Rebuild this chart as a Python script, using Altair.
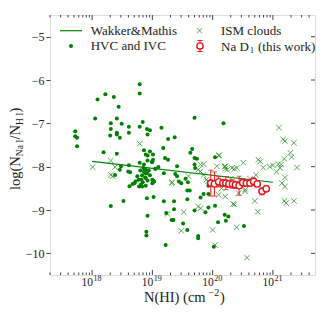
import altair as alt
import pandas as pd

# ---------------- data ----------------
hvc_logN = [17.72, 17.72, 17.75, 17.75,
            18.05, 18.09, 18.22, 18.36, 18.44, 18.41, 18.31, 18.49, 18.61, 18.79, 18.84,
            18.31, 18.41, 18.41, 18.46, 18.30, 18.61, 18.79, 18.79, 18.19, 18.41, 18.86,
            18.96, 18.89, 18.92, 18.91, 18.96, 18.92,
            18.48, 18.46, 18.38, 18.61, 18.60, 18.63, 18.31, 18.52,
            18.79, 18.86, 18.85, 18.89, 18.86, 18.91, 18.80, 18.83, 18.88, 18.82, 18.77,
            18.72, 18.70, 18.81, 18.83, 18.78, 18.92, 19.00, 19.03, 18.99, 19.05, 18.92,
            19.01, 18.94, 18.67, 18.75, 18.84, 18.89, 18.96, 18.62,
            18.91, 19.02, 18.92, 18.90, 18.90, 19.22,
            19.19, 19.36, 19.36, 19.23, 19.32, 19.35, 19.51, 19.58, 19.58, 19.76, 19.76,
            19.70, 19.80, 19.88, 19.93, 20.04, 20.20, 20.26, 20.22, 20.09, 19.85, 19.93,
            19.58, 19.62, 20.02, 20.52,
            19.70, 20.18, 19.15, 19.26, 19.37, 19.18, 19.66, 19.63, 19.21, 19.26, 19.70,
            19.74, 20.04, 19.01, 19.00, 19.41, 19.10, 19.05, 19.70, 19.71, 19.19, 19.38,
            19.41, 19.55, 19.59, 19.44, 19.48, 19.01, 19.00, 18.89, 18.89, 19.93]
hvc_ratio = [-7.18, -7.30, -7.33, -7.53,
             -6.89, -6.45, -6.33, -6.39, -6.62, -6.89, -7.00, -7.01, -7.08, -7.08, -6.97,
             -7.13, -7.22, -7.26, -7.33, -7.28, -7.22, -6.10, -6.31, -7.67, -7.70, -7.62,
             -7.65, -7.72, -7.74, -7.13, -7.16, -7.26,
             -7.99, -8.07, -8.19, -7.97, -8.11, -8.13, -8.91, -8.79,
             -7.91, -7.95, -8.03, -8.07, -8.12, -8.15, -8.09, -8.20, -8.25, -8.30, -8.30,
             -8.34, -8.38, -8.42, -8.46, -8.46, -8.32, -8.30, -8.34, -7.89, -8.05, -7.86,
             -7.72, -8.09, -8.40, -8.22, -8.36, -8.44, -8.20, -8.45,
             -8.73, -8.70, -9.13, -9.50, -9.59, -9.81,
             -8.80, -8.80, -8.98, -9.07, -9.23, -9.23, -9.31, -9.46, -8.75, -9.60, -9.65,
             -9.01, -8.71, -9.05, -8.94, -8.90, -9.11, -9.15, -9.25, -9.28, -8.63, -8.63,
             -8.55, -8.55, -9.85, -9.37,
             -6.87, -7.00, -7.10, -7.36, -7.32, -7.57, -7.59, -7.68, -7.80, -7.84, -7.80,
             -7.82, -7.78, -7.84, -7.89, -7.99, -8.01, -8.05, -7.95, -8.03, -8.15, -8.17,
             -8.22, -8.28, -8.36, -8.34, -8.38, -8.32, -8.38, -8.15, -8.26, -8.44]

ism_logN = [18.01, 18.31, 18.38, 18.31, 18.34, 18.79,
            19.32, 19.25, 19.52, 19.76, 19.80, 19.48, 20.00, 20.04, 20.34, 19.92,
            20.11, 19.85, 19.80, 19.76, 19.80, 19.85, 19.60, 20.21, 20.24, 20.32, 19.33, 19.90,
            21.10, 21.17, 21.20, 21.35, 21.29, 21.31, 21.19, 21.40, 21.09, 21.14, 21.12,
            21.06, 20.95, 21.00, 21.20, 21.15, 21.20, 20.84, 20.76, 20.79, 20.72, 20.51,
            20.36, 20.40, 20.20, 20.21, 20.10,
            20.54, 20.70, 21.19, 21.22, 21.35, 20.36, 20.75, 20.40, 20.57,
            20.07, 20.10, 20.21, 20.43, 20.30, 20.62, 20.15, 20.54]
ism_ratio = [-8.01, -7.86, -8.01, -8.19, -8.22, -7.47,
             -8.38, -9.09, -9.05, -8.92, -8.96, -9.48, -9.46, -9.81, -8.86, -8.34,
             -7.74, -7.94, -7.95, -8.07, -8.11, -8.19, -8.22, -7.99, -8.07, -8.03, -8.36, -8.30,
             -7.10, -7.37, -7.41, -7.45, -7.68, -7.78, -7.82, -8.02, -7.94, -7.95, -8.03,
             -8.12, -8.00, -7.97, -8.25, -8.38, -8.46, -8.02, -7.84, -7.88, -8.19, -7.91,
             -8.05, -8.03, -8.00, -8.05, -7.74,
             -8.57, -8.79, -8.79, -8.84, -8.79, -8.87, -9.04, -9.40, -10.10,
             -7.99, -8.65, -8.69, -8.61, -8.28, -8.28, -8.50, -8.53]

nad_logN = [19.97, 20.03, 20.10, 20.17, 20.22, 20.27, 20.33, 20.38,
            20.44, 20.50, 20.56, 20.62, 20.68, 20.74, 20.82, 20.89]
nad_ratio = [-8.38, -8.40, -8.35, -8.38, -8.38, -8.40, -8.40, -8.42,
             -8.44, -8.37, -8.38, -8.38, -8.34, -8.40, -8.57, -8.51]
nad_err = [0.30, 0.28, 0.12, 0.08, 0.15, 0.08, 0.10, 0.08,
           0.22, 0.08, 0.06, 0.06, 0.08, 0.06, 0.08, 0.07]

wm_logN = [18.0, 21.0]
wm_ratio = [-7.88, -8.36]

x_major = [1e18, 1e19, 1e20, 1e21]
x_exp = ["18", "19", "20", "21"]
x_minor = [m * 10.0 ** e for e in range(17, 22) for m in range(2, 10) if m * 10.0 ** e < 5e21]
y_major = [-10, -9, -8, -7, -6, -5]

# ---------------- frames ----------------
hvc = pd.DataFrame({"N": [10 ** v for v in hvc_logN], "r": hvc_ratio})
ism = pd.DataFrame({"N": [10 ** v for v in ism_logN], "r": ism_ratio})
nad = pd.DataFrame({"N": [10 ** v for v in nad_logN], "r": nad_ratio,
                    "lo": [r - e for r, e in zip(nad_ratio, nad_err)],
                    "hi": [r + e for r, e in zip(nad_ratio, nad_err)]})
wm = pd.DataFrame({"N": [10 ** v for v in wm_logN], "r": wm_ratio})
xmaj = pd.DataFrame({"v": x_major, "e": x_exp})
xmin = pd.DataFrame({"v": x_minor})
ymaj = pd.DataFrame({"v": y_major})
one = pd.DataFrame({"a": [0]})

W, H = 265, 260
FONT = "Liberation Serif"
GREEN = "#008000"
RED = "#e8141c"
TXT = "#222222"

xscale = alt.Scale(type="log", domain=[2e17, 5e21])
yscale = alt.Scale(domain=[-10.5, -4.5])
yaxis = alt.Axis(values=y_major, tickSize=4, labelPadding=2, domain=False, grid=False,
                 title=None, labelFont=FONT, labelFontSize=12, labelColor=TXT,
                 tickColor="#444")


def X(f="N"):
    return alt.X(f"{f}:Q", scale=xscale, axis=None)


def Y(f="r"):
    return alt.Y(f"{f}:Q", scale=yscale, axis=yaxis)


layers = []
layers.append(alt.Chart(hvc).mark_point(shape="circle", filled=True, size=16,
                                       color=GREEN, opacity=1).encode(x=X(), y=Y()))
XSHAPE = "M-1,-1L1,1M-1,1L1,-1"
layers.append(alt.Chart(ism).mark_point(shape=XSHAPE, filled=False, size=30,
                                       color=GREEN, strokeWidth=1, opacity=0.65)
              .encode(x=X(), y=Y()))
layers.append(alt.Chart(wm).mark_line(color=GREEN, strokeWidth=1.2).encode(x=X(), y=Y()))
layers.append(alt.Chart(nad).mark_rule(color=RED, strokeWidth=1).encode(x=X(), y=Y("lo"), y2="hi:Q"))
layers.append(alt.Chart(nad).mark_tick(color=RED, orient="horizontal", size=5, thickness=1)
              .encode(x=X(), y=Y("lo")))
layers.append(alt.Chart(nad).mark_tick(color=RED, orient="horizontal", size=5, thickness=1)
              .encode(x=X(), y=Y("hi")))
layers.append(alt.Chart(nad).mark_point(shape="circle", filled=True, fill="white", stroke=RED,
                                       strokeWidth=1.4, size=40, opacity=1)
              .encode(x=X(), y=Y()))

# frame ticks (inward)
TC = "#444"
layers.append(alt.Chart(xmaj).mark_rule(color=TC).encode(x=X("v"), y=alt.value(H), y2=alt.value(H - 5)))
layers.append(alt.Chart(xmaj).mark_rule(color=TC).encode(x=X("v"), y=alt.value(0), y2=alt.value(5)))
layers.append(alt.Chart(xmin).mark_rule(color=TC).encode(x=X("v"), y=alt.value(H), y2=alt.value(H - 2.5)))
layers.append(alt.Chart(xmin).mark_rule(color=TC).encode(x=X("v"), y=alt.value(0), y2=alt.value(2.5)))
layers.append(alt.Chart(ymaj).mark_rule(color=TC).encode(y=Y("v"), x=alt.value(W), x2=alt.value(W - 4)))

# x tick labels
layers.append(alt.Chart(xmaj).mark_text(text="10", font=FONT, fontSize=11.5, color=TXT,
                                       align="right", baseline="alphabetic", dx=1)
              .encode(x=X("v"), y=alt.value(H + 11)))
layers.append(alt.Chart(xmaj).mark_text(font=FONT, fontSize=8, color=TXT,
                                       align="left", baseline="alphabetic", dx=1.5)
              .encode(x=X("v"), y=alt.value(H + 6), text="e:N"))

# x title: N(HI) (cm^-2)
layers.append(alt.Chart(one).mark_text(text="N(HI) (cm", font=FONT, fontSize=14.5, color=TXT,
                                      align="left", baseline="alphabetic")
              .encode(x=alt.value(94), y=alt.value(286.5)))
layers.append(alt.Chart(one).mark_text(text="\u22122", font=FONT, fontSize=10, color=TXT,
                                      align="left", baseline="alphabetic")
              .encode(x=alt.value(158.5), y=alt.value(280.5)))
layers.append(alt.Chart(one).mark_text(text=")", font=FONT, fontSize=14.5, color=TXT,
                                      align="left", baseline="alphabetic")
              .encode(x=alt.value(170), y=alt.value(286.5)))

# y title: log(N_NaI / N_HI), rotated
ytitle_parts = [("log(N", 14.5, 175.0, -30), ("Na I", 9.5, 141.2, -27),
                ("/N", 14.5, 124.5, -30), ("H I", 9.5, 110.0, -27), (")", 14.5, 97.6, -30)]
for txt, fs, ypos, xpos in ytitle_parts:
    layers.append(alt.Chart(one).mark_text(text=txt, font=FONT, fontSize=fs, color=TXT, angle=270,
                                          align="left", baseline="alphabetic")
                  .encode(x=alt.value(xpos), y=alt.value(ypos)))

# legend
LF = 13
layers.append(alt.Chart(one).mark_rule(color=GREEN, strokeWidth=1.2)
              .encode(x=alt.value(10), x2=alt.value(32), y=alt.value(15.7)))
layers.append(alt.Chart(one).mark_point(shape="circle", filled=True, size=16, color=GREEN, opacity=1)
              .encode(x=alt.value(21), y=alt.value(31)))
layers.append(alt.Chart(one).mark_point(shape=XSHAPE, filled=False, size=25, color=GREEN,
                                       strokeWidth=1, opacity=0.65)
              .encode(x=alt.value(149.5), y=alt.value(15.7)))
layers.append(alt.Chart(one).mark_rule(color=RED, strokeWidth=1)
              .encode(x=alt.value(150), y=alt.value(25.5), y2=alt.value(36.5)))
layers.append(alt.Chart(one).mark_rule(color=RED, strokeWidth=1)
              .encode(x=alt.value(147.5), x2=alt.value(152.5), y=alt.value(25.5)))
layers.append(alt.Chart(one).mark_rule(color=RED, strokeWidth=1)
              .encode(x=alt.value(147.5), x2=alt.value(152.5), y=alt.value(36.5)))
layers.append(alt.Chart(one).mark_point(shape="circle", filled=True, fill="white", stroke=RED,
                                       strokeWidth=1.4, size=40, opacity=1)
              .encode(x=alt.value(150), y=alt.value(31)))
for txt, xp, yp in [("Wakker&Mathis", 40.7, 15.7), ("HVC and IVC", 40.7, 31),
                    ("ISM clouds", 171, 15.7)]:
    layers.append(alt.Chart(one).mark_text(text=txt, font=FONT, fontSize=LF, color=TXT,
                                          align="left", baseline="middle")
                  .encode(x=alt.value(xp), y=alt.value(yp)))
layers.append(alt.Chart(one).mark_text(text="Na D", font=FONT, fontSize=LF, color=TXT,
                                      align="left", baseline="alphabetic")
              .encode(x=alt.value(171), y=alt.value(35.5)))
layers.append(alt.Chart(one).mark_text(text="1", font=FONT, fontSize=8, color=TXT,
                                      align="left", baseline="alphabetic")
              .encode(x=alt.value(200), y=alt.value(38)))
layers.append(alt.Chart(one).mark_text(text="(this work)", font=FONT, fontSize=LF, color=TXT,
                                      align="left", baseline="alphabetic")
              .encode(x=alt.value(208), y=alt.value(35.5)))

chart = (alt.layer(*layers)
         .properties(width=W, height=H,
                     padding={"left": 42, "top": 7, "right": 9, "bottom": 41},
                     autosize=alt.AutoSizeParams(type="none"))
         .configure_view(stroke="#444", strokeWidth=1)
         .configure(background="white"))

chart.save("out.html", embed_options={"renderer": "svg", "actions": False})
